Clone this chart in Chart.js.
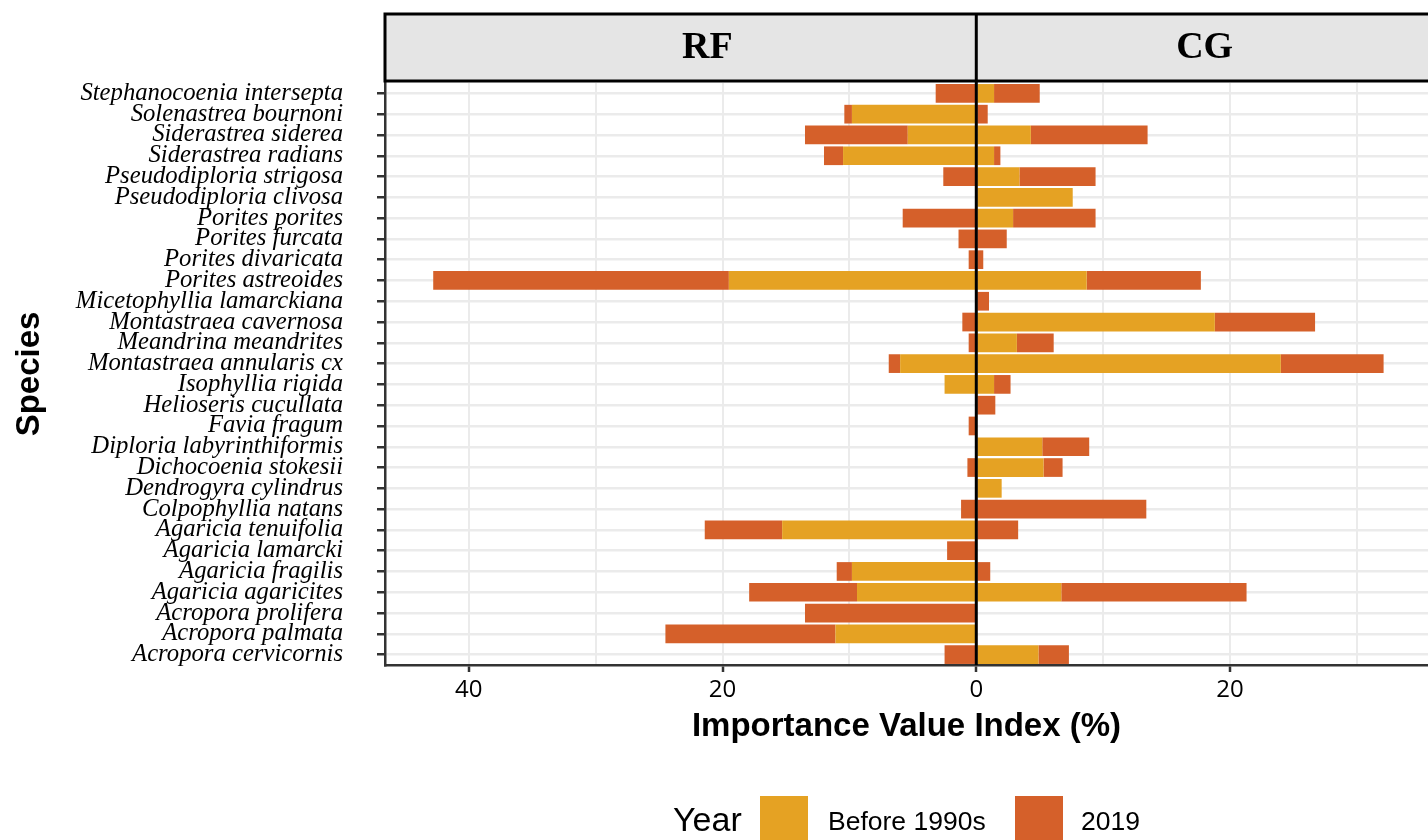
<!DOCTYPE html>
<html>
<head>
<meta charset="utf-8">
<script src="https://cdn.jsdelivr.net/npm/chart.js@4"></script>
<style>
body{margin:0;background:#fff;overflow:hidden;}
#wrap{position:relative;width:1428px;height:840px;}
canvas{position:absolute;left:0;top:0;}
.lg{position:absolute;font-family:"Liberation Sans",Arial,sans-serif;color:#000;line-height:1;}
.sw{position:absolute;width:48px;height:48px;}
</style>
</head>
<body>
<div id="wrap">
<canvas id="c" width="1428" height="840"></canvas>
<div class="lg" style="left:673px;top:802px;font-size:34px;">Year</div>
<div class="sw" style="left:760px;top:796px;background:#E5A223;"></div>
<div class="lg" style="left:828px;top:808px;font-size:26.5px;">Before 1990s</div>
<div class="sw" style="left:1015px;top:796px;background:#D5602A;"></div>
<div class="lg" style="left:1081px;top:808px;font-size:26.5px;">2019</div>
</div>
<script>
// species, top to bottom
const species = [
"Stephanocoenia intersepta","Solenastrea bournoni","Siderastrea siderea","Siderastrea radians",
"Pseudodiploria strigosa","Pseudodiploria clivosa","Porites porites","Porites furcata",
"Porites divaricata","Porites astreoides","Micetophyllia lamarckiana","Montastraea cavernosa",
"Meandrina meandrites","Montastraea annularis cx","Isophyllia rigida","Helioseris cucullata",
"Favia fragum","Diploria labyrinthiformis","Dichocoenia stokesii","Dendrogyra cylindrus",
"Colpophyllia natans","Agaricia tenuifolia","Agaricia lamarcki","Agaricia fragilis",
"Agaricia agaricites","Acropora prolifera","Acropora palmata","Acropora cervicornis"
];

// RF (left side)
const rfBefore = [0,9.8,5.4,10.5,0,0,0,0,0,19.5,0,0,0,6.0,2.5,0,0,0,0,0,0,15.3,0,9.8,9.4,0,11.1,0];
const rf2019   = [3.2,0.6,8.1,1.5,2.6,0,5.8,1.4,0.6,23.3,0,1.1,0.6,0.9,0,0,0.6,0,0.7,0,1.2,6.1,2.3,1.2,8.5,13.5,13.4,2.5];

// CG (right side)
const cgBefore = [1.4,0,4.3,1.4,3.4,7.6,2.9,0,0,8.7,0,18.8,3.2,24.0,1.4,0,0,5.2,5.3,2.0,0,0,0,0,6.7,0,0,4.9];
const cg2019   = [3.6,0.9,9.2,0.5,6.0,0,6.5,2.4,0.55,9.0,1.0,7.9,2.9,8.1,1.3,1.5,0,3.7,1.5,0,13.4,3.3,0,1.1,14.6,0,0,2.4];

const xTicks = [-40,-30,-20,-10,0,10,20,30];
const sites = [{name:"RF", at:-21.2},{name:"CG", at:18.0}];

const yellow = "#E5A223";
const red = "#D5602A";
const sans = "'Liberation Sans', Arial, sans-serif";
const tickSans = "'Open Sans', 'Noto Sans', sans-serif";
const serif = "'Liberation Serif', 'Times New Roman', serif";

// facet strip + zero line
const stripPlugin = {
  id:"strip",
  afterDraw(chart){
    const {ctx, chartArea} = chart;
    const x = chart.scales.x;
    const x0 = x.getPixelForValue(0);
    const top = 14, bot = 81;
    ctx.save();
    ctx.fillStyle = "#E5E5E5";
    ctx.fillRect(chartArea.left, top, chart.width - chartArea.left + 5, bot - top);
    ctx.strokeStyle = "#000";
    ctx.lineWidth = 3;
    ctx.strokeRect(chartArea.left, top, chart.width - chartArea.left + 5, bot - top);
    ctx.beginPath();
    ctx.moveTo(x0, top); ctx.lineTo(x0, bot);
    ctx.stroke();
    ctx.fillStyle = "#000";
    ctx.font = "bold 38px " + serif;
    ctx.textAlign = "center";
    ctx.textBaseline = "middle";
    sites.forEach(s => ctx.fillText(s.name, x.getPixelForValue(s.at), (top + bot) / 2 + 1));
    ctx.restore();
  },
  afterDatasetsDraw(chart){
    const {ctx, chartArea} = chart;
    const x0 = chart.scales.x.getPixelForValue(0);
    ctx.save();
    ctx.strokeStyle = "#000";
    ctx.lineWidth = 3;
    ctx.beginPath();
    ctx.moveTo(x0, chartArea.top - 3); ctx.lineTo(x0, chartArea.bottom);
    ctx.stroke();
    ctx.restore();
  }
};

new Chart(document.getElementById("c"), {
  type:"bar",
  data:{
    labels:species,
    datasets:[
      {label:"Before 1990s", data:rfBefore.map(v => -v), backgroundColor:yellow, stack:"s"},
      {label:"2019", data:rf2019.map(v => -v), backgroundColor:red, stack:"s"},
      {label:"Before 1990s", data:cgBefore, backgroundColor:yellow, stack:"s"},
      {label:"2019", data:cg2019, backgroundColor:red, stack:"s"}
    ]
  },
  options:{
    indexAxis:"y",
    responsive:false,
    animation:false,
    barPercentage:0.9,
    categoryPercentage:1.0,
    layout:{padding:{top:83, left:0, right:0, bottom:90}},
    plugins:{legend:{display:false}, tooltip:{enabled:false}},
    scales:{
      x:{
        type:"linear",
        stacked:true,
        min:-46.6,
        max:35.6,
        afterBuildTicks:(s) => { s.ticks = xTicks.map(v => ({value:v})); },
        afterFit:(s) => { s.height = 85; },
        ticks:{
          callback:(v) => (v % 20 === 0 ? String(Math.abs(v)) : ""),
          color:"#000",
          font:{family:tickSans, size:24},
          padding:4,
          maxRotation:0
        },
        grid:{
          color:"#EBEBEB",
          lineWidth:2,
          tickLength:7,
          tickWidth:2.5,
          tickColor:(c) => (c.tick && c.tick.value % 20 === 0 ? "#333" : "rgba(0,0,0,0)")
        },
        border:{display:true, color:"#333", width:2.5},
        title:{
          display:true,
          text:"Importance Value Index (%)",
          color:"#000",
          font:{family:sans, size:33, weight:"bold"},
          padding:{top:0, bottom:3}
        }
      },
      y:{
        stacked:true,
        afterFit:(s) => { s.width = 385; },
        ticks:{
          color:"#000",
          font:{family:serif, size:24.7, style:"italic"},
          padding:34,
          autoSkip:false
        },
        grid:{
          offset:false,
          color:"#EBEBEB",
          lineWidth:2.5,
          tickLength:8,
          tickWidth:2.5,
          tickColor:"#333"
        },
        border:{display:true, color:"#333", width:2.5},
        title:{
          display:true,
          text:"Species",
          color:"#000",
          font:{family:sans, size:33, weight:"bold"},
          padding:{top:10, bottom:0}
        }
      }
    }
  },
  plugins:[stripPlugin]
});
</script>
</body>
</html>
